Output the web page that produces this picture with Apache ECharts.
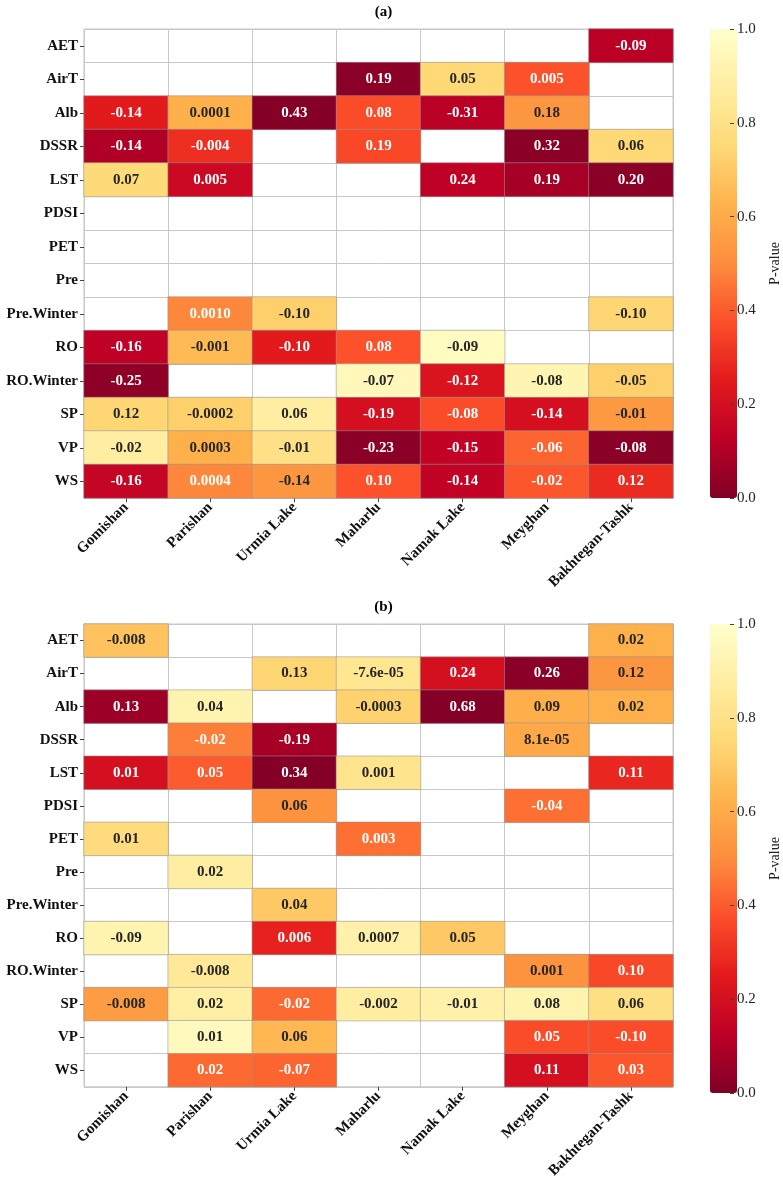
<!DOCTYPE html>
<html>
<head>
<meta charset="utf-8">
<script src="https://cdn.jsdelivr.net/npm/echarts@6/dist/echarts.min.js"></script>
<style>
html,body{margin:0;padding:0;background:#fff;}
#chart{width:783px;height:1181px;}
</style>
</head>
<body>
<div id="chart"></div>
<script>
// ---------- DATA ----------
const sites = ['Gomishan', 'Parishan', 'Urmia Lake', 'Maharlu', 'Namak Lake', 'Meyghan', 'Bakhtegan-Tashk'];
const variables = ['AET', 'AirT', 'Alb', 'DSSR', 'LST', 'PDSI', 'PET', 'Pre', 'Pre.Winter', 'RO', 'RO.Winter', 'SP', 'VP', 'WS'];
const colorTicks = [0, 0.2, 0.4, 0.6, 0.8, 1.0];

// Panel (a): annotation text (trend values), null = empty cell
const textA = [
  [null, null, null, null, null, null, '-0.09'],
  [null, null, null, '0.19', '0.05', '0.005', null],
  ['-0.14', '0.0001', '0.43', '0.08', '-0.31', '0.18', null],
  ['-0.14', '-0.004', null, '0.19', null, '0.32', '0.06'],
  ['0.07', '0.005', null, null, '0.24', '0.19', '0.20'],
  [null, null, null, null, null, null, null],
  [null, null, null, null, null, null, null],
  [null, null, null, null, null, null, null],
  [null, '0.0010', '-0.10', null, null, null, '-0.10'],
  ['-0.16', '-0.001', '-0.10', '0.08', '-0.09', null, null],
  ['-0.25', null, null, '-0.07', '-0.12', '-0.08', '-0.05'],
  ['0.12', '-0.0002', '0.06', '-0.19', '-0.08', '-0.14', '-0.01'],
  ['-0.02', '0.0003', '-0.01', '-0.23', '-0.15', '-0.06', '-0.08'],
  ['-0.16', '0.0004', '-0.14', '0.10', '-0.14', '-0.02', '0.12']
];
// Panel (a): p-values (cell colour), estimated from the colour scale
const pA = [
  [null, null, null, null, null, null, 0.12],
  [null, null, null, 0.02, 0.75, 0.38, null],
  [0.25, 0.62, 0.01, 0.37, 0.12, 0.53, null],
  [0.10, 0.30, null, 0.36, null, 0.02, 0.75],
  [0.76, 0.17, null, null, 0.13, 0.08, 0.02],
  [null, null, null, null, null, null, null],
  [null, null, null, null, null, null, null],
  [null, null, null, null, null, null, null],
  [null, 0.49, 0.72, null, null, null, 0.74],
  [0.13, 0.65, 0.25, 0.38, 0.97, null, null],
  [0.03, null, null, 0.95, 0.22, 0.93, 0.72],
  [0.74, 0.72, 0.88, 0.20, 0.37, 0.20, 0.54],
  [0.88, 0.62, 0.80, 0.02, 0.14, 0.42, 0.02],
  [0.15, 0.49, 0.53, 0.38, 0.14, 0.39, 0.29]
];

// Panel (b)
const textB = [
  ['-0.008', null, null, null, null, null, '0.02'],
  [null, null, '0.13', '-7.6e-05', '0.24', '0.26', '0.12'],
  ['0.13', '0.04', null, '-0.0003', '0.68', '0.09', '0.02'],
  [null, '-0.02', '-0.19', null, null, '8.1e-05', null],
  ['0.01', '0.05', '0.34', '0.001', null, null, '0.11'],
  [null, null, '0.06', null, null, '-0.04', null],
  ['0.01', null, null, '0.003', null, null, null],
  [null, '0.02', null, null, null, null, null],
  [null, null, '0.04', null, null, null, null],
  ['-0.09', null, '0.006', '0.0007', '0.05', null, null],
  [null, '-0.008', null, null, null, '0.001', '0.10'],
  ['-0.008', '0.02', '-0.02', '-0.002', '-0.01', '0.08', '0.06'],
  [null, '0.01', '0.06', null, null, '0.05', '-0.10'],
  [null, '0.02', '-0.07', null, null, '0.11', '0.03']
];
const pB = [
  [0.68, null, null, null, null, null, 0.62],
  [null, null, 0.74, 0.83, 0.20, 0.02, 0.53],
  [0.06, 0.92, null, 0.73, 0.01, 0.61, 0.62],
  [null, 0.47, 0.08, null, null, 0.59, null],
  [0.20, 0.40, 0.01, 0.82, null, null, 0.28],
  [null, null, 0.52, null, null, 0.44, null],
  [0.77, null, null, 0.44, null, null, null],
  [null, 0.88, null, null, null, null, null],
  [null, null, 0.70, null, null, null, null],
  [0.92, null, 0.27, 0.90, 0.70, null, null],
  [null, 0.85, null, null, null, 0.52, 0.36],
  [0.55, 0.89, 0.43, 0.88, 0.90, 0.92, 0.79],
  [null, 0.96, 0.64, null, null, 0.37, 0.37],
  [null, 0.43, 0.42, null, null, 0.20, 0.39]
];

// ---------- STYLE / LAYOUT ----------
const FONT = "'Liberation Serif', 'Times New Roman', serif";
const ylOrRdR = ['#800026', '#bd0026', '#e31a1c', '#fc4e2a', '#fd8d3c', '#feb24c', '#fed976', '#ffeda0', '#ffffcc'];
const panels = [
  {title: '(a)', text: textA, p: pA, top: 29},
  {title: '(b)', text: textB, p: pB, top: 624}
];
const plotLeft = 84, plotW = 589, plotH = 469;
const cbLeft = 710, cbW = 27;

const option = {
  backgroundColor: '#ffffff',
  animation: false,
  title: [], grid: [], xAxis: [], yAxis: [], series: [], visualMap: []
};

panels.forEach((pn, k) => {
  option.title.push({
    text: pn.title, left: plotLeft + plotW / 2, top: pn.top - 29, textAlign: 'center',
    textStyle: {fontFamily: FONT, fontWeight: 'bold', fontSize: 15, color: '#000'}
  });
  // heatmap grid
  option.grid.push({
    left: plotLeft, top: pn.top, width: plotW, height: plotH,
    show: true, borderColor: '#c8c8c8', borderWidth: 1, backgroundColor: 'transparent'
  });
  // colorbar axis grid
  option.grid.push({left: cbLeft, top: pn.top, width: cbW, height: plotH, show: false});

  const gi = k * 2;
  option.xAxis.push({
    type: 'category', gridIndex: gi, data: sites,
    axisLine: {show: false},
    axisTick: {show: true, alignWithLabel: true, length: 4, lineStyle: {color: '#444'}},
    axisLabel: {rotate: 45, margin: 7, fontFamily: FONT, fontWeight: 'bold', fontSize: 15, color: '#111', interval: 0},
    splitLine: {show: true, interval: 0, lineStyle: {color: '#c8c8c8', width: 1}}
  });
  option.yAxis.push({
    type: 'category', gridIndex: gi, data: variables, inverse: true,
    axisLine: {show: false},
    axisTick: {show: true, alignWithLabel: true, length: 4, lineStyle: {color: '#444'}},
    axisLabel: {margin: 6, fontFamily: FONT, fontWeight: 'bold', fontSize: 15, color: '#111', interval: 0},
    splitLine: {show: true, interval: 0, lineStyle: {color: '#c8c8c8', width: 1}}
  });
  option.xAxis.push({type: 'category', gridIndex: gi + 1, data: [''], show: false});
  option.yAxis.push({
    type: 'value', gridIndex: gi + 1, min: colorTicks[0], max: colorTicks[colorTicks.length - 1],
    interval: colorTicks[1] - colorTicks[0], position: 'right', z: 10,
    name: 'P-value', nameLocation: 'middle', nameRotate: 90, nameGap: 38,
    nameTextStyle: {fontFamily: FONT, fontSize: 14, color: '#222'},
    axisLine: {show: false},
    axisTick: {show: true, inside: false, length: 4, lineStyle: {color: '#444'}},
    axisLabel: {show: true, inside: false, margin: 7, align: 'left', fontFamily: FONT, fontSize: 15, color: '#222',
                formatter: v => v.toFixed(1)},
    splitLine: {show: false}
  });

  const data = [];
  pn.p.forEach((row, yi) => {
    row.forEach((pv, xi) => {
      if (pv === null) return;
      data.push({
        value: [xi, yi, pv],
        label: {color: pv < 0.5 ? '#ffffff' : '#262626'}
      });
    });
  });
  const txt = pn.text;
  option.series.push({
    type: 'heatmap', xAxisIndex: gi, yAxisIndex: gi, data: data,
    itemStyle: {borderColor: 'rgba(150,150,150,0.55)', borderWidth: 1},
    label: {
      show: true, fontFamily: FONT, fontWeight: 'bold', fontSize: 15,
      formatter: prm => txt[prm.value[1]][prm.value[0]]
    },
    emphasis: {disabled: true}
  });
  option.visualMap.push({
    type: 'continuous', seriesIndex: k, min: 0, max: 1, z: 1,
    calculable: false, realtime: false, hoverLink: false,
    left: cbLeft, top: pn.top, itemWidth: cbW, itemHeight: plotH, padding: 0,
    text: null, showLabel: false,
    inRange: {color: ylOrRdR}
  });
});

const chart = echarts.init(document.getElementById('chart'), null, {renderer: 'canvas'});
chart.setOption(option);
</script>
</body>
</html>
